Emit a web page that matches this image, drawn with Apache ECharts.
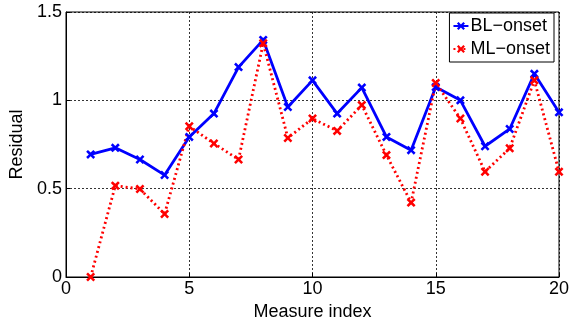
<!DOCTYPE html>
<html>
<head>
<meta charset="utf-8">
<script src="https://cdn.jsdelivr.net/npm/echarts@6/dist/echarts.min.js"></script>
<style>
  html, body { margin: 0; padding: 0; background: #fff; }
  #chart { width: 584px; height: 323px; }
</style>
</head>
<body>
<div id="chart"></div>
<script>
var measureIndex = [1, 2, 3, 4, 5, 6, 7, 8, 9, 10, 11, 12, 13, 14, 15, 16, 17, 18, 19, 20]
var blOnset = [0.694, 0.731, 0.665, 0.577, 0.793, 0.925, 1.188, 1.342, 0.962, 1.113,
  0.925, 1.072, 0.793, 0.718, 1.075, 1.0, 0.74, 0.838, 1.15, 0.932]
var mlOnset = [0.0, 0.517, 0.498, 0.357, 0.853, 0.756, 0.665, 1.323, 0.787, 0.897,
  0.827, 0.973, 0.690, 0.421, 1.098, 0.897, 0.596, 0.729, 1.113, 0.596]

// thick "x" marker like matlab's
var xMark = 'path://M0,2L2,0L5,3L8,0L10,2L7,5L10,8L8,10L5,7L2,10L0,8L3,5Z'
var font = 'Liberation Sans, Helvetica, Arial, sans-serif'

function pairs(ys) {
  return measureIndex.map(function (x, i) { return [x, ys[i]] })
}

var chart = echarts.init(document.getElementById('chart'))
var option = {
  animation: false,
  textStyle: { fontFamily: font },
  grid: {
    left: 66, right: 25, top: 12, bottom: 46,
    outerBoundsMode: 'none',
    containLabel: false,
    show: true, borderColor: '#000', borderWidth: 1
  },
  legend: {
    orient: 'vertical',
    right: 30, top: 13,
    backgroundColor: '#fff',
    borderColor: '#000', borderWidth: 1,
    padding: [4, 4, 4, 3],
    itemGap: 5,
    itemWidth: 15, itemHeight: 10,
    textStyle: { fontFamily: font, fontSize: 18, color: '#000', padding: [0, 0, 0, -3] },
    data: ['BL\u2212onset', 'ML\u2212onset']
  },
  xAxis: {
    type: 'value',
    min: 0, max: 20, interval: 5,
    name: 'Measure index',
    nameLocation: 'middle',
    nameGap: 17,
    nameTextStyle: { fontSize: 18, color: '#000' },
    axisLine: { show: true, lineStyle: { color: '#000' } },
    axisTick: { show: true, inside: true, length: 4, lineStyle: { color: '#000' } },
    axisLabel: { fontSize: 18, color: '#000', margin: 3 },
    splitLine: { show: true, lineStyle: { color: '#000', type: [2, 2], width: 0.8 } }
  },
  yAxis: {
    type: 'value',
    min: 0, max: 1.5, interval: 0.5,
    name: 'Residual',
    nameLocation: 'middle',
    nameGap: 35,
    nameTextStyle: { fontSize: 18, color: '#000' },
    axisLine: { show: true, lineStyle: { color: '#000' } },
    axisTick: { show: true, inside: true, length: 4, lineStyle: { color: '#000' } },
    axisLabel: { fontSize: 18, color: '#000', margin: 4 },
    splitLine: { show: true, lineStyle: { color: '#000', type: [2, 2], width: 0.8 } }
  },
  series: [
    {
      name: 'BL\u2212onset',
      type: 'line',
      data: pairs(blOnset),
      symbol: xMark,
      symbolSize: 9,
      color: '#0000ff',
      lineStyle: { color: '#0000ff', width: 2.8 },
      itemStyle: { color: '#0000ff' }
    },
    {
      name: 'ML\u2212onset',
      type: 'line',
      data: pairs(mlOnset),
      symbol: xMark,
      symbolSize: 9,
      color: '#ff0000',
      lineStyle: { color: '#ff0000', width: 2.8, type: [2, 3] },
      itemStyle: { color: '#ff0000' }
    }
  ]
}
chart.setOption(option)
</script>
</body>
</html>
